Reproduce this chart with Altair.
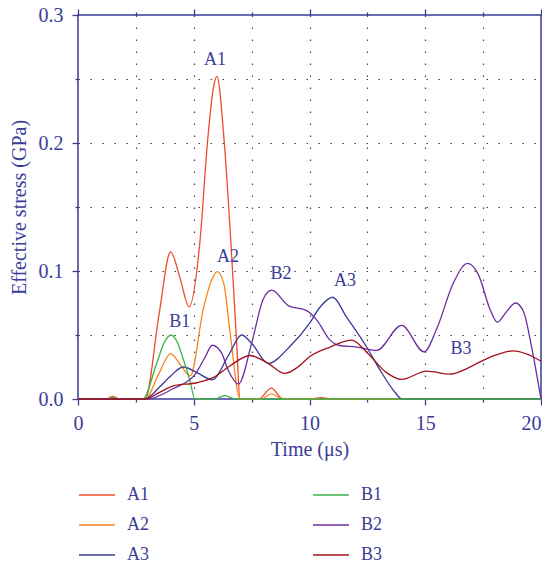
import altair as alt
import pandas as pd

# ---- data (time in microseconds, effective stress in GPa) ----
a1_t = [0, 1.2, 1.5, 1.8, 2.9, 3.5, 4.0, 4.4, 4.8, 5.27, 5.59, 5.85, 6.0, 6.32, 6.6, 6.85, 7.0, 7.8, 8.35, 8.85, 10.0, 10.5, 11.0, 20]
a1_s = [0, 0, 0.002, 0, 0, 0.066, 0.115, 0.095, 0.072, 0.1235, 0.20, 0.243, 0.252, 0.20, 0.1235, 0.045, 0, 0, 0.0085, 0, 0, 0.001, 0, 0]

a2_t = [0, 1.2, 1.5, 1.8, 2.9, 3.5, 4.0, 4.45, 4.85, 5.41, 5.75, 6.02, 6.3, 6.57, 7.0, 7.9, 8.35, 8.85, 20]
a2_s = [0, 0, 0.0015, 0, 0, 0.020, 0.0355, 0.026, 0.018, 0.070, 0.092, 0.0995, 0.090, 0.052, 0, 0, 0.004, 0, 0]

a3_t = [0, 2.9, 3.5, 4.0, 4.55, 5.1, 5.8, 6.5, 7.07, 7.5, 8.22, 9.1, 10.0, 10.45, 11.0, 11.6, 12.47, 13.05, 13.62, 14.0, 20]
a3_s = [0, 0, 0.009, 0.018, 0.025, 0.021, 0.0150, 0.034, 0.050, 0.0435, 0.0277, 0.040, 0.059, 0.0717, 0.0795, 0.064, 0.0406, 0.0225, 0.007, 0, 0]

b1_t = [0, 1.2, 1.5, 1.8, 2.8, 3.4, 3.75, 4.02, 4.3, 4.55, 4.84, 5.05, 5.9, 6.35, 6.8, 20]
b1_s = [0, 0, 0.001, 0, 0, 0.028, 0.045, 0.050, 0.044, 0.031, 0.014, 0, 0, 0.0026, 0, 0]

b2_t = [0, 3.0, 4.1, 5.05, 5.5, 5.8, 6.2, 6.5, 6.93, 7.5, 8.0, 8.37, 9.08, 9.88, 10.3, 10.89, 11.25, 12.04, 12.9, 13.98, 14.95, 15.5, 16.2, 16.83, 17.3, 17.8, 18.11, 18.5, 18.9, 19.25, 19.6, 20]
b2_s = [0, 0, 0.008, 0.019, 0.033, 0.042, 0.036, 0.022, 0.0117, 0.0435, 0.078, 0.085, 0.073, 0.069, 0.062, 0.046, 0.042, 0.0406, 0.038, 0.0575, 0.0368, 0.055, 0.090, 0.106, 0.097, 0.070, 0.060, 0.068, 0.075, 0.068, 0.040, 0]

b3_t = [0, 2.9, 3.5, 4.12, 5.13, 5.85, 6.57, 7.43, 8.2, 8.94, 9.5, 10.0, 10.89, 11.82, 12.5, 13.3, 13.98, 15.06, 16.07, 16.7, 17.37, 18.0, 18.8, 19.4, 20]
b3_s = [0, 0, 0.005, 0.0103, 0.0127, 0.0169, 0.026, 0.034, 0.028, 0.020, 0.025, 0.033, 0.0406, 0.046, 0.036, 0.021, 0.0153, 0.0218, 0.0194, 0.023, 0.029, 0.034, 0.0376, 0.035, 0.0295]

series_names = ["A1", "A2", "A3", "B1", "B2", "B3"]
series_colors = ["#ef4b2b", "#f7861f", "#3a3a98", "#3db34a", "#6b2fa0", "#a3121c"]

label_text = ["A1", "A2", "B1", "B2", "A3", "B3"]
label_t = [5.92, 6.48, 4.4, 8.77, 11.53, 16.54]
label_s = [0.265, 0.111, 0.060, 0.0979, 0.0925, 0.0389]

x_ticks = [0, 2.5, 5, 7.5, 10, 12.5, 15, 17.5, 20]
y_ticks = [0, 0.05, 0.1, 0.15, 0.2, 0.25, 0.3]

# ---- build tables ----
rows = []
for name, ts, ss in [("A1", a1_t, a1_s), ("A2", a2_t, a2_s), ("A3", a3_t, a3_s),
                     ("B1", b1_t, b1_s), ("B2", b2_t, b2_s), ("B3", b3_t, b3_s)]:
    for t, s in zip(ts, ss):
        rows.append({"t": t, "s": s, "series": name})
df = pd.DataFrame(rows)
labels_df = pd.DataFrame({"t": label_t, "s": label_s, "text": label_text})

INK = "#3b3b98"
FONT = "Liberation Serif"

x_major = "datum.value % 5 === 0"
y_major = "round(datum.value * 100) % 10 === 0"
x_edge = "datum.value === 0 || datum.value === 20"
y_edge = "datum.value === 0 || round(datum.value * 100) === 30"

xscale = alt.Scale(domain=[0, 20], nice=False, zero=False)
yscale = alt.Scale(domain=[0, 0.3], nice=False)

lines = alt.Chart(df).mark_line(interpolate="monotone", strokeWidth=1.3).encode(
    x=alt.X("t:Q", scale=xscale, title="Time (μs)",
            axis=alt.Axis(values=x_ticks, orient="bottom", format="d",
                          labelExpr=f"{x_major} ? datum.label : ''",
                          labelAlign={"condition": {"test": "datum.value === 20", "value": "right"},
                                      "value": "center"},
                          tickSize={"condition": {"test": x_major, "value": 6}, "value": 3},
                          grid=True,
                          gridOpacity={"condition": {"test": x_edge, "value": 0}, "value": 1},
                          labelPadding=8, titlePadding=6)),
    y=alt.Y("s:Q", scale=yscale, title="Effective stress (GPa)",
            axis=alt.Axis(values=y_ticks, orient="left", format=".1f",
                          labelExpr=f"{y_major} ? datum.label : ''",
                          tickSize={"condition": {"test": y_major, "value": 6}, "value": 3},
                          grid=True,
                          gridOpacity={"condition": {"test": y_edge, "value": 0}, "value": 1},
                          labelPadding=9, titlePadding=9)),
    color=alt.Color("series:N",
                    scale=alt.Scale(domain=series_names, range=series_colors),
                    legend=alt.Legend(title=None, orient="none", columns=2,
                                      legendX=10, legendY=471,
                                      symbolType="M-3,0H3", symbolSize=144,
                                      symbolStrokeWidth=1.5, symbolFillColor="transparent",
                                      labelOffset=21, columnPadding=161, rowPadding=12,
                                      labelFont=FONT, labelFontSize=18, labelColor=INK,
                                      padding=0)),
)

texts = alt.Chart(labels_df).mark_text(font=FONT, fontSize=18, color=INK).encode(
    x=alt.X("t:Q", scale=xscale, title=None,
            axis=alt.Axis(values=x_ticks, orient="top", labels=False, grid=False, domain=False,
                          tickSize={"condition": {"test": x_major, "value": 6}, "value": 3})),
    y=alt.Y("s:Q", scale=yscale, title=None,
            axis=alt.Axis(values=y_ticks, orient="right", labels=False, grid=False, domain=False,
                          tickSize={"condition": {"test": y_major, "value": 6}, "value": 3})),
    text="text:N",
)

chart = alt.layer(lines, texts).resolve_axis(x="independent", y="independent").properties(
    width=463, height=384,
    autosize=alt.AutoSizeParams(type="none"),
    padding={"left": 70, "top": 7, "right": 1, "bottom": 168},
).configure_view(
    stroke=INK, strokeWidth=1.5
).configure_axis(
    domain=False, labelFlush=False,
    tickColor=INK, tickWidth=1.3,
    labelFont=FONT, labelFontSize=20, labelColor=INK,
    titleFont=FONT, titleFontSize=20, titleColor=INK, titleFontWeight="normal",
    gridColor="#444444", gridDash=[1.5, 10.5], gridWidth=1.2,
)

chart.save("out.html", embed_options={"renderer": "svg", "actions": False})
